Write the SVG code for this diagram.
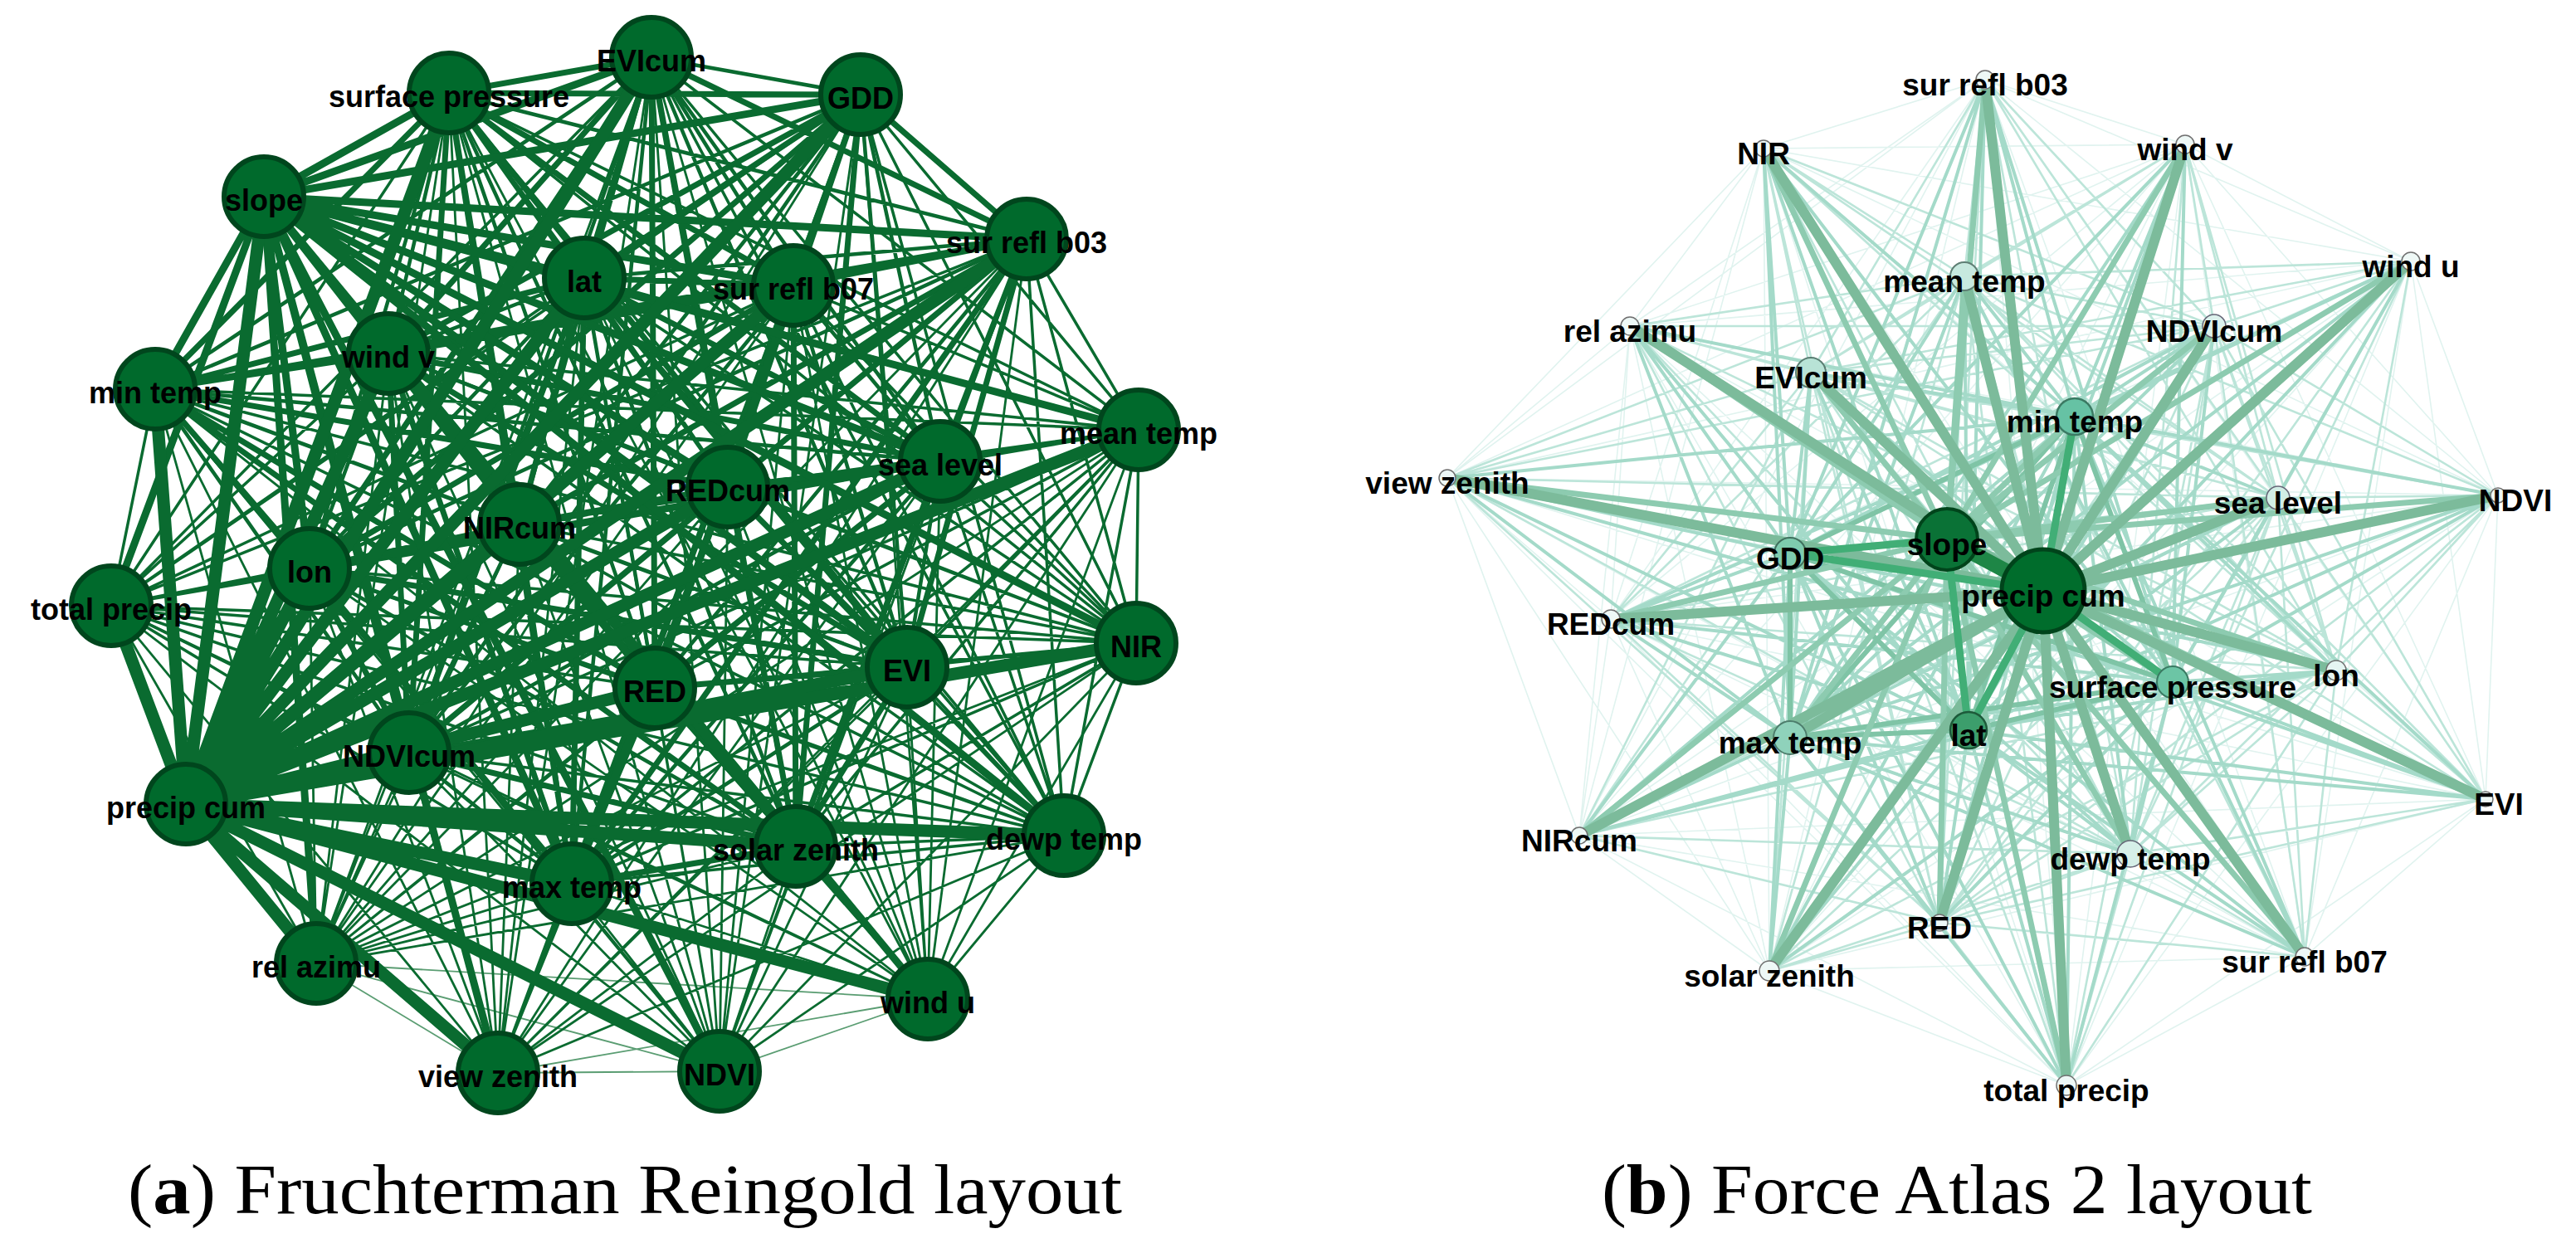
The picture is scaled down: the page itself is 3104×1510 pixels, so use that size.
<svg xmlns="http://www.w3.org/2000/svg" width="3104" height="1510" viewBox="0 0 3104 1510">
<style>
.e{fill:none;stroke-linecap:round}
.la{stroke:#0a6b30;stroke-width:15}
.lb{stroke:#0a6b30;stroke-width:9}
.lc1{stroke:#0a6b30;stroke-width:7}
.lc2{stroke:#0a6b30;stroke-width:4.5}
.ld{stroke:#0a6b30;stroke-width:3.5}
.le1{stroke:#0a6b30;stroke-width:2.8}
.le2{stroke:#5a9d72;stroke-width:1.8}
.ra{stroke:#7cbb9b;stroke-width:12}
.rb{stroke:#8dcbb0;stroke-width:7}
.rc{stroke:#a4dac9;stroke-width:4}
.rc2{stroke:#7fc4a6;stroke-width:6}
.rd1{stroke:#bce5d9;stroke-width:2.6}
.rd2{stroke:#e0f3ef;stroke-width:1.6}
.rk{stroke:#41ae76;stroke-width:9}
.ln{fill:#006a2c;stroke:#00461d;stroke-width:6}
.ll{font-family:'Liberation Sans',Arial,sans-serif;font-weight:bold;font-size:36px;fill:#000;text-anchor:middle}
.rl{font-family:'Liberation Sans',Arial,sans-serif;font-weight:bold;font-size:37px;fill:#000;text-anchor:middle}
.rs{fill:#eef8f6;stroke:#6f6f6f;stroke-width:1.5}
.cap{font-family:'Liberation Serif','Times New Roman',serif;font-size:84px;fill:#000}
</style>
<rect width="3104" height="1510" fill="#fff"/>
<g id="connectors-left">
<path class="e le2" d="M381 1161L1118 1204M381 1161L600 1293M381 1161L867 1291M1118 1204L600 1293M1118 1204L867 1291M600 1293L867 1291"/>
<path class="e le1" d="M381 1161L785 69M381 1161L541 112M381 1161L1037 114M381 1161L704 335M381 1161L956 344M381 1161L1237 288M381 1161L187 469M381 1161L468 426M381 1161L1133 556M381 1161L877 587M381 1161L626 632M381 1161L373 685M381 1161L1093 804M381 1161L789 829M381 1161L493 907M381 1161L959 1020M381 1161L689 1065M381 1161L1372 518M381 1161L1369 775M381 1161L1282 1007M381 1161L134 730M1118 1204L785 69M1118 1204L541 112M1118 1204L1037 114M1118 1204L704 335M1118 1204L956 344M1118 1204L1237 288M1118 1204L187 469M1118 1204L468 426M1118 1204L1133 556M1118 1204L877 587M1118 1204L626 632M1118 1204L373 685M1118 1204L1093 804M1118 1204L789 829M1118 1204L493 907M1118 1204L959 1020M1118 1204L689 1065M1118 1204L1372 518M1118 1204L1369 775M1118 1204L1282 1007M1118 1204L134 730M600 1293L785 69M600 1293L541 112M600 1293L1037 114M600 1293L704 335M600 1293L956 344M600 1293L1237 288M600 1293L187 469M600 1293L468 426M600 1293L1133 556M600 1293L877 587M600 1293L626 632M600 1293L373 685M600 1293L1093 804M600 1293L789 829M600 1293L493 907M600 1293L959 1020M600 1293L689 1065M600 1293L1372 518M600 1293L1369 775M600 1293L1282 1007M600 1293L134 730M867 1291L785 69M867 1291L541 112M867 1291L1037 114M867 1291L704 335M867 1291L956 344M867 1291L1237 288M867 1291L187 469M867 1291L468 426M867 1291L1133 556M867 1291L877 587M867 1291L626 632M867 1291L373 685M867 1291L1093 804M867 1291L789 829M867 1291L493 907M867 1291L959 1020M867 1291L689 1065M867 1291L1372 518M867 1291L1369 775M867 1291L1282 1007M867 1291L134 730"/>
<path class="e ld" d="M1372 518L785 69M1372 518L541 112M1372 518L1037 114M1372 518L704 335M1372 518L956 344M1372 518L1237 288M1372 518L187 469M1372 518L468 426M1372 518L1133 556M1372 518L877 587M1372 518L626 632M1372 518L373 685M1372 518L1093 804M1372 518L789 829M1372 518L493 907M1372 518L959 1020M1372 518L689 1065M1369 775L785 69M1369 775L541 112M1369 775L1037 114M1369 775L704 335M1369 775L956 344M1369 775L1237 288M1369 775L187 469M1369 775L468 426M1369 775L1133 556M1369 775L877 587M1369 775L626 632M1369 775L373 685M1369 775L1093 804M1369 775L789 829M1369 775L493 907M1369 775L959 1020M1369 775L689 1065M1282 1007L785 69M1282 1007L541 112M1282 1007L1037 114M1282 1007L704 335M1282 1007L956 344M1282 1007L1237 288M1282 1007L187 469M1282 1007L468 426M1282 1007L1133 556M1282 1007L877 587M1282 1007L626 632M1282 1007L373 685M1282 1007L1093 804M1282 1007L789 829M1282 1007L493 907M1282 1007L959 1020M1282 1007L689 1065M134 730L785 69M134 730L541 112M134 730L1037 114M134 730L704 335M134 730L956 344M134 730L1237 288M134 730L187 469M134 730L468 426M134 730L1133 556M134 730L877 587M134 730L626 632M134 730L373 685M134 730L1093 804M134 730L789 829M134 730L493 907M134 730L959 1020M134 730L689 1065M1372 518L1369 775M1372 518L1282 1007M1372 518L134 730M1369 775L1282 1007M1369 775L134 730M1282 1007L134 730"/>
<path class="e lc2" d="M785 69L1037 114M785 69L956 344M785 69L187 469M785 69L1133 556M785 69L626 632M785 69L1093 804M785 69L493 907M785 69L689 1065M541 112L704 335M541 112L1237 288M541 112L468 426M541 112L877 587M541 112L373 685M541 112L789 829M541 112L959 1020M1037 114L956 344M1037 114L187 469M1037 114L1133 556M1037 114L626 632M1037 114L1093 804M1037 114L493 907M1037 114L689 1065M704 335L1237 288M704 335L468 426M704 335L877 587M704 335L373 685M704 335L789 829M704 335L959 1020M956 344L187 469M956 344L1133 556M956 344L626 632M956 344L1093 804M956 344L493 907M956 344L689 1065M1237 288L468 426M1237 288L877 587M1237 288L373 685M1237 288L789 829M1237 288L959 1020M187 469L1133 556M187 469L626 632M187 469L1093 804M187 469L493 907M187 469L689 1065M468 426L877 587M468 426L373 685M468 426L789 829M468 426L959 1020M1133 556L626 632M1133 556L1093 804M1133 556L493 907M1133 556L689 1065M877 587L373 685M877 587L789 829M877 587L959 1020M626 632L1093 804M626 632L493 907M626 632L689 1065M373 685L789 829M373 685L959 1020M1093 804L493 907M1093 804L689 1065M789 829L959 1020M493 907L689 1065"/>
<path class="e lc1" d="M785 69L541 112M785 69L704 335M785 69L1237 288M785 69L468 426M785 69L877 587M785 69L373 685M785 69L789 829M785 69L959 1020M541 112L1037 114M541 112L956 344M541 112L187 469M541 112L1133 556M541 112L626 632M541 112L1093 804M541 112L493 907M541 112L689 1065M1037 114L704 335M1037 114L1237 288M1037 114L468 426M1037 114L877 587M1037 114L373 685M1037 114L789 829M1037 114L959 1020M704 335L956 344M704 335L187 469M704 335L1133 556M704 335L626 632M704 335L1093 804M704 335L493 907M704 335L689 1065M956 344L1237 288M956 344L468 426M956 344L877 587M956 344L373 685M956 344L789 829M956 344L959 1020M1237 288L187 469M1237 288L1133 556M1237 288L626 632M1237 288L1093 804M1237 288L493 907M1237 288L689 1065M187 469L468 426M187 469L877 587M187 469L373 685M187 469L789 829M187 469L959 1020M468 426L1133 556M468 426L626 632M468 426L1093 804M468 426L493 907M468 426L689 1065M1133 556L877 587M1133 556L373 685M1133 556L789 829M1133 556L959 1020M877 587L626 632M877 587L1093 804M877 587L493 907M877 587L689 1065M626 632L373 685M626 632L789 829M626 632L959 1020M373 685L1093 804M373 685L493 907M373 685L689 1065M1093 804L789 829M1093 804L959 1020M789 829L493 907M789 829L689 1065M493 907L959 1020M959 1020L689 1065"/>
<path class="e lb" d="M318 237L785 69M318 237L541 112M318 237L1037 114M318 237L704 335M318 237L956 344M318 237L1237 288M318 237L187 469M318 237L468 426M318 237L1372 518M318 237L1133 556M318 237L877 587M318 237L626 632M318 237L373 685M318 237L134 730M318 237L1369 775M318 237L1093 804M318 237L789 829M318 237L493 907M318 237L959 1020M318 237L1282 1007M318 237L689 1065M318 237L381 1161M318 237L1118 1204M318 237L600 1293M318 237L867 1291"/>
<path class="e la" d="M224 969L785 69M224 969L541 112M224 969L1037 114M224 969L318 237M224 969L704 335M224 969L956 344M224 969L1237 288M224 969L187 469M224 969L468 426M224 969L1372 518M224 969L1133 556M224 969L877 587M224 969L626 632M224 969L373 685M224 969L134 730M224 969L1369 775M224 969L1093 804M224 969L789 829M224 969L493 907M224 969L959 1020M224 969L1282 1007M224 969L689 1065M224 969L381 1161M224 969L1118 1204M224 969L600 1293M224 969L867 1291"/>
</g>
<g id="nodes-left">
<g id="L-EVIcum"><circle class="ln" cx="785" cy="69" r="48"/><text class="ll" x="785" y="86">EVIcum</text></g>
<g id="L-surface-pressure"><circle class="ln" cx="541" cy="112" r="48"/><text class="ll" x="541" y="129">surface pressure</text></g>
<g id="L-GDD"><circle class="ln" cx="1037" cy="114" r="48"/><text class="ll" x="1037" y="131">GDD</text></g>
<g id="L-slope"><circle class="ln" cx="318" cy="237" r="48"/><text class="ll" x="318" y="254">slope</text></g>
<g id="L-lat"><circle class="ln" cx="704" cy="335" r="48"/><text class="ll" x="704" y="352">lat</text></g>
<g id="L-sur-refl-b07"><circle class="ln" cx="956" cy="344" r="48"/><text class="ll" x="956" y="361">sur refl b07</text></g>
<g id="L-sur-refl-b03"><circle class="ln" cx="1237" cy="288" r="48"/><text class="ll" x="1237" y="305">sur refl b03</text></g>
<g id="L-min-temp"><circle class="ln" cx="187" cy="469" r="48"/><text class="ll" x="187" y="486">min temp</text></g>
<g id="L-wind-v"><circle class="ln" cx="468" cy="426" r="48"/><text class="ll" x="468" y="443">wind v</text></g>
<g id="L-mean-temp"><circle class="ln" cx="1372" cy="518" r="48"/><text class="ll" x="1372" y="535">mean temp</text></g>
<g id="L-sea-level"><circle class="ln" cx="1133" cy="556" r="48"/><text class="ll" x="1133" y="573">sea level</text></g>
<g id="L-REDcum"><circle class="ln" cx="877" cy="587" r="48"/><text class="ll" x="877" y="604">REDcum</text></g>
<g id="L-NIRcum"><circle class="ln" cx="626" cy="632" r="48"/><text class="ll" x="626" y="649">NIRcum</text></g>
<g id="L-lon"><circle class="ln" cx="373" cy="685" r="48"/><text class="ll" x="373" y="702">lon</text></g>
<g id="L-total-precip"><circle class="ln" cx="134" cy="730" r="48"/><text class="ll" x="134" y="747">total precip</text></g>
<g id="L-NIR"><circle class="ln" cx="1369" cy="775" r="48"/><text class="ll" x="1369" y="792">NIR</text></g>
<g id="L-EVI"><circle class="ln" cx="1093" cy="804" r="48"/><text class="ll" x="1093" y="821">EVI</text></g>
<g id="L-RED"><circle class="ln" cx="789" cy="829" r="48"/><text class="ll" x="789" y="846">RED</text></g>
<g id="L-NDVIcum"><circle class="ln" cx="493" cy="907" r="48"/><text class="ll" x="493" y="924">NDVIcum</text></g>
<g id="L-precip-cum"><circle class="ln" cx="224" cy="969" r="48"/><text class="ll" x="224" y="986">precip cum</text></g>
<g id="L-solar-zenith"><circle class="ln" cx="959" cy="1020" r="48"/><text class="ll" x="959" y="1037">solar zenith</text></g>
<g id="L-dewp-temp"><circle class="ln" cx="1282" cy="1007" r="48"/><text class="ll" x="1282" y="1024">dewp temp</text></g>
<g id="L-max-temp"><circle class="ln" cx="689" cy="1065" r="48"/><text class="ll" x="689" y="1082">max temp</text></g>
<g id="L-rel-azimu"><circle class="ln" cx="381" cy="1161" r="48"/><text class="ll" x="381" y="1178">rel azimu</text></g>
<g id="L-wind-u"><circle class="ln" cx="1118" cy="1204" r="48"/><text class="ll" x="1118" y="1221">wind u</text></g>
<g id="L-view-zenith"><circle class="ln" cx="600" cy="1293" r="48"/><text class="ll" x="600" y="1310">view zenith</text></g>
<g id="L-NDVI"><circle class="ln" cx="867" cy="1291" r="48"/><text class="ll" x="867" y="1308">NDVI</text></g>
</g>
<g id="connectors-right">
<path class="e rd2" d="M2392 96L2125 179M2392 96L2633 174M2392 96L2905 315M2392 96L1964 393M2392 96L1744 576M2392 96L3010 597M2392 96L1941 746M2392 96L2995 963M2392 96L1903 1007M2392 96L2777 1153M2392 96L2132 1170M2392 96L2490 1308M2125 179L2633 174M2125 179L2905 315M2125 179L1964 393M2125 179L1744 576M2125 179L3010 597M2125 179L1941 746M2125 179L2995 963M2125 179L1903 1007M2125 179L2777 1153M2125 179L2132 1170M2125 179L2490 1308M2633 174L2905 315M2633 174L1964 393M2633 174L1744 576M2633 174L3010 597M2633 174L1941 746M2633 174L2995 963M2633 174L1903 1007M2633 174L2777 1153M2633 174L2132 1170M2633 174L2490 1308M2905 315L1964 393M2905 315L1744 576M2905 315L3010 597M2905 315L1941 746M2905 315L2995 963M2905 315L1903 1007M2905 315L2777 1153M2905 315L2132 1170M2905 315L2490 1308M1964 393L1744 576M1964 393L3010 597M1964 393L1941 746M1964 393L2995 963M1964 393L1903 1007M1964 393L2777 1153M1964 393L2132 1170M1964 393L2490 1308M1744 576L3010 597M1744 576L1941 746M1744 576L2995 963M1744 576L1903 1007M1744 576L2777 1153M1744 576L2132 1170M1744 576L2490 1308M3010 597L1941 746M3010 597L2995 963M3010 597L1903 1007M3010 597L2777 1153M3010 597L2132 1170M3010 597L2490 1308M1941 746L2995 963M1941 746L1903 1007M1941 746L2777 1153M1941 746L2132 1170M1941 746L2490 1308M2995 963L1903 1007M2995 963L2777 1153M2995 963L2132 1170M2995 963L2490 1308M1903 1007L2777 1153M1903 1007L2132 1170M1903 1007L2490 1308M2777 1153L2132 1170M2777 1153L2490 1308M2132 1170L2490 1308"/>
<path class="e rd1" d="M2367 333L2392 96M2367 333L2125 179M2367 333L2633 174M2367 333L2905 315M2367 333L1964 393M2367 333L2668 393M2367 333L2182 449M2367 333L1744 576M2367 333L2745 600M2367 333L3010 597M2367 333L1941 746M2367 333L2815 808M2367 333L2995 963M2367 333L1903 1007M2367 333L2567 1029M2367 333L2337 1112M2367 333L2777 1153M2367 333L2132 1170M2367 333L2490 1308M2668 393L2392 96M2668 393L2125 179M2668 393L2633 174M2668 393L2905 315M2668 393L1964 393M2668 393L2182 449M2668 393L1744 576M2668 393L2745 600M2668 393L3010 597M2668 393L1941 746M2668 393L2815 808M2668 393L2995 963M2668 393L1903 1007M2668 393L2567 1029M2668 393L2337 1112M2668 393L2777 1153M2668 393L2132 1170M2668 393L2490 1308M2182 449L2392 96M2182 449L2125 179M2182 449L2633 174M2182 449L2905 315M2182 449L1964 393M2182 449L1744 576M2182 449L2745 600M2182 449L3010 597M2182 449L1941 746M2182 449L2815 808M2182 449L2995 963M2182 449L1903 1007M2182 449L2567 1029M2182 449L2337 1112M2182 449L2777 1153M2182 449L2132 1170M2182 449L2490 1308M2745 600L2392 96M2745 600L2125 179M2745 600L2633 174M2745 600L2905 315M2745 600L1964 393M2745 600L1744 576M2745 600L3010 597M2745 600L1941 746M2745 600L2815 808M2745 600L2995 963M2745 600L1903 1007M2745 600L2567 1029M2745 600L2337 1112M2745 600L2777 1153M2745 600L2132 1170M2745 600L2490 1308M2815 808L2392 96M2815 808L2125 179M2815 808L2633 174M2815 808L2905 315M2815 808L1964 393M2815 808L1744 576M2815 808L3010 597M2815 808L1941 746M2815 808L2995 963M2815 808L1903 1007M2815 808L2567 1029M2815 808L2337 1112M2815 808L2777 1153M2815 808L2132 1170M2815 808L2490 1308M2567 1029L2392 96M2567 1029L2125 179M2567 1029L2633 174M2567 1029L2905 315M2567 1029L1964 393M2567 1029L1744 576M2567 1029L3010 597M2567 1029L1941 746M2567 1029L2995 963M2567 1029L1903 1007M2567 1029L2337 1112M2567 1029L2777 1153M2567 1029L2132 1170M2567 1029L2490 1308M2337 1112L2392 96M2337 1112L2125 179M2337 1112L2633 174M2337 1112L2905 315M2337 1112L1964 393M2337 1112L1744 576M2337 1112L3010 597M2337 1112L1941 746M2337 1112L2995 963M2337 1112L1903 1007M2337 1112L2777 1153M2337 1112L2132 1170M2337 1112L2490 1308"/>
<path class="e rc" d="M2500 502L2392 96M2500 502L2125 179M2500 502L2633 174M2500 502L2905 315M2500 502L2367 333M2500 502L1964 393M2500 502L2668 393M2500 502L2182 449M2500 502L1744 576M2500 502L2745 600M2500 502L3010 597M2500 502L1941 746M2500 502L2815 808M2500 502L2995 963M2500 502L1903 1007M2500 502L2567 1029M2500 502L2337 1112M2500 502L2777 1153M2500 502L2132 1170M2500 502L2490 1308M2157 667L2392 96M2157 667L2125 179M2157 667L2633 174M2157 667L2905 315M2157 667L2367 333M2157 667L1964 393M2157 667L2668 393M2157 667L2182 449M2157 667L1744 576M2157 667L2745 600M2157 667L3010 597M2157 667L1941 746M2157 667L2815 808M2157 667L2995 963M2157 667L1903 1007M2157 667L2567 1029M2157 667L2337 1112M2157 667L2777 1153M2157 667L2132 1170M2157 667L2490 1308M2618 822L2392 96M2618 822L2125 179M2618 822L2633 174M2618 822L2905 315M2618 822L2367 333M2618 822L1964 393M2618 822L2668 393M2618 822L2182 449M2618 822L1744 576M2618 822L2745 600M2618 822L3010 597M2618 822L1941 746M2618 822L2815 808M2618 822L2995 963M2618 822L1903 1007M2618 822L2567 1029M2618 822L2337 1112M2618 822L2777 1153M2618 822L2132 1170M2618 822L2490 1308M2372 880L2392 96M2372 880L2125 179M2372 880L2633 174M2372 880L2905 315M2372 880L2367 333M2372 880L1964 393M2372 880L2668 393M2372 880L2182 449M2372 880L1744 576M2372 880L2745 600M2372 880L3010 597M2372 880L1941 746M2372 880L2815 808M2372 880L2995 963M2372 880L1903 1007M2372 880L2567 1029M2372 880L2337 1112M2372 880L2777 1153M2372 880L2132 1170M2372 880L2490 1308M2157 889L2392 96M2157 889L2125 179M2157 889L2633 174M2157 889L2905 315M2157 889L2367 333M2157 889L1964 393M2157 889L2668 393M2157 889L2182 449M2157 889L1744 576M2157 889L2745 600M2157 889L3010 597M2157 889L1941 746M2157 889L2815 808M2157 889L2995 963M2157 889L1903 1007M2157 889L2567 1029M2157 889L2337 1112M2157 889L2777 1153M2157 889L2132 1170M2157 889L2490 1308"/>
<path class="e rc2" d="M2500 502L2157 667M2500 502L2618 822M2500 502L2372 880M2500 502L2157 889M2157 667L2618 822M2157 667L2372 880M2157 667L2157 889M2618 822L2372 880M2618 822L2157 889M2372 880L2157 889"/>
<path class="e rb" d="M2346 650L2392 96M2346 650L2125 179M2346 650L2633 174M2346 650L2905 315M2346 650L2367 333M2346 650L1964 393M2346 650L2668 393M2346 650L2182 449M2346 650L1744 576M2346 650L2745 600M2346 650L3010 597M2346 650L1941 746M2346 650L2815 808M2346 650L2995 963M2346 650L1903 1007M2346 650L2567 1029M2346 650L2337 1112M2346 650L2777 1153M2346 650L2132 1170M2346 650L2490 1308M2346 650L2500 502M2346 650L2618 822M2346 650L2157 889"/>
<path class="e ra" d="M2462 712L2392 96M2462 712L2125 179M2462 712L2633 174M2462 712L2905 315M2462 712L2367 333M2462 712L1964 393M2462 712L2668 393M2462 712L2182 449M2462 712L1744 576M2462 712L2745 600M2462 712L3010 597M2462 712L1941 746M2462 712L2815 808M2462 712L2995 963M2462 712L1903 1007M2462 712L2567 1029M2462 712L2337 1112M2462 712L2777 1153M2462 712L2132 1170M2462 712L2490 1308M2462 712L2157 889"/>
<path class="e rk" d="M2462 712L2372 880M2462 712L2500 502M2462 712L2157 667M2462 712L2618 822M2346 650L2157 667M2346 650L2372 880"/>
<path class="e" stroke="#1e8646" stroke-width="18" d="M2462 712L2346 650"/>
</g>
<g id="nodes-right">
<g id="R-sur-refl-b03"><circle class="rs" cx="2392" cy="96" r="11"/><text class="rl" x="2392" y="115">sur refl b03</text></g>
<g id="R-NIR"><circle class="rs" cx="2125" cy="179" r="10"/><text class="rl" x="2125" y="198">NIR</text></g>
<g id="R-wind-v"><circle class="rs" cx="2633" cy="174" r="11"/><text class="rl" x="2633" y="193">wind v</text></g>
<g id="R-wind-u"><circle class="rs" cx="2905" cy="315" r="11"/><text class="rl" x="2905" y="334">wind u</text></g>
<g id="R-mean-temp"><circle cx="2367" cy="333" r="17" fill="#c7e9df" stroke="#5f7f74" stroke-width="2"/><text class="rl" x="2367" y="352">mean temp</text></g>
<g id="R-rel-azimu"><circle class="rs" cx="1964" cy="393" r="11"/><text class="rl" x="1964" y="412">rel azimu</text></g>
<g id="R-NDVIcum"><circle cx="2668" cy="393" r="14" fill="#dcf1ec" stroke="#667" stroke-width="1.5"/><text class="rl" x="2668" y="412">NDVIcum</text></g>
<g id="R-EVIcum"><circle cx="2182" cy="449" r="18" fill="#b8e3d6" stroke="#5a7d72" stroke-width="2"/><text class="rl" x="2182" y="468">EVIcum</text></g>
<g id="R-min-temp"><circle cx="2500" cy="502" r="22" fill="#66c2a4" stroke="#3b7a63" stroke-width="2.5"/><text class="rl" x="2500" y="521">min temp</text></g>
<g id="R-view-zenith"><circle class="rs" cx="1744" cy="576" r="10"/><text class="rl" x="1744" y="595">view zenith</text></g>
<g id="R-sea-level"><circle cx="2745" cy="600" r="14" fill="#d2eee6" stroke="#667" stroke-width="1.5"/><text class="rl" x="2745" y="619">sea level</text></g>
<g id="R-NDVI"><circle class="rs" cx="3010" cy="597" r="9"/><text class="rl" x="3031" y="616">NDVI</text></g>
<g id="R-slope"><circle cx="2346" cy="650" r="37" fill="#0a7236" stroke="#00441b" stroke-width="4"/><text class="rl" x="2346" y="669">slope</text></g>
<g id="R-GDD"><circle cx="2157" cy="667" r="19" fill="#7ecbae" stroke="#40705e" stroke-width="2"/><text class="rl" x="2157" y="686">GDD</text></g>
<g id="R-precip-cum"><circle cx="2462" cy="712" r="50" fill="#006d2c" stroke="#00441b" stroke-width="5"/><text class="rl" x="2462" y="731">precip cum</text></g>
<g id="R-REDcum"><circle class="rs" cx="1941" cy="746" r="11"/><text class="rl" x="1941" y="765">REDcum</text></g>
<g id="R-lon"><circle cx="2815" cy="808" r="12" fill="#e5f5f2" stroke="#6f6f6f" stroke-width="1.5"/><text class="rl" x="2815" y="827">lon</text></g>
<g id="R-surface-pressure"><circle cx="2618" cy="822" r="19" fill="#6cc5a5" stroke="#3b7a63" stroke-width="2"/><text class="rl" x="2618" y="841">surface pressure</text></g>
<g id="R-lat"><circle cx="2372" cy="880" r="22" fill="#3c9e6c" stroke="#1d5a3a" stroke-width="2.5"/><text class="rl" x="2372" y="899">lat</text></g>
<g id="R-max-temp"><circle cx="2157" cy="889" r="20" fill="#8fd2bb" stroke="#4d7d6c" stroke-width="2"/><text class="rl" x="2157" y="908">max temp</text></g>
<g id="R-EVI"><circle class="rs" cx="2995" cy="963" r="9"/><text class="rl" x="3011" y="982">EVI</text></g>
<g id="R-NIRcum"><circle class="rs" cx="1903" cy="1007" r="10"/><text class="rl" x="1903" y="1026">NIRcum</text></g>
<g id="R-dewp-temp"><circle cx="2567" cy="1029" r="16" fill="#d6efe8" stroke="#667" stroke-width="1.5"/><text class="rl" x="2567" y="1048">dewp temp</text></g>
<g id="R-RED"><circle class="rs" cx="2337" cy="1112" r="10"/><text class="rl" x="2337" y="1131">RED</text></g>
<g id="R-sur-refl-b07"><circle class="rs" cx="2777" cy="1153" r="11"/><text class="rl" x="2777" y="1172">sur refl b07</text></g>
<g id="R-solar-zenith"><circle class="rs" cx="2132" cy="1170" r="12"/><text class="rl" x="2132" y="1189">solar zenith</text></g>
<g id="R-total-precip"><circle class="rs" cx="2490" cy="1308" r="12"/><text class="rl" x="2490" y="1327">total precip</text></g>
</g>
<g id="captions">
<text class="cap" x="154" y="1462" textLength="1198" lengthAdjust="spacingAndGlyphs">(<tspan font-weight="bold">a</tspan>) Fruchterman Reingold layout</text>
<text class="cap" x="1930" y="1462" textLength="856" lengthAdjust="spacingAndGlyphs">(<tspan font-weight="bold">b</tspan>) Force Atlas 2 layout</text>
</g>
</svg>
